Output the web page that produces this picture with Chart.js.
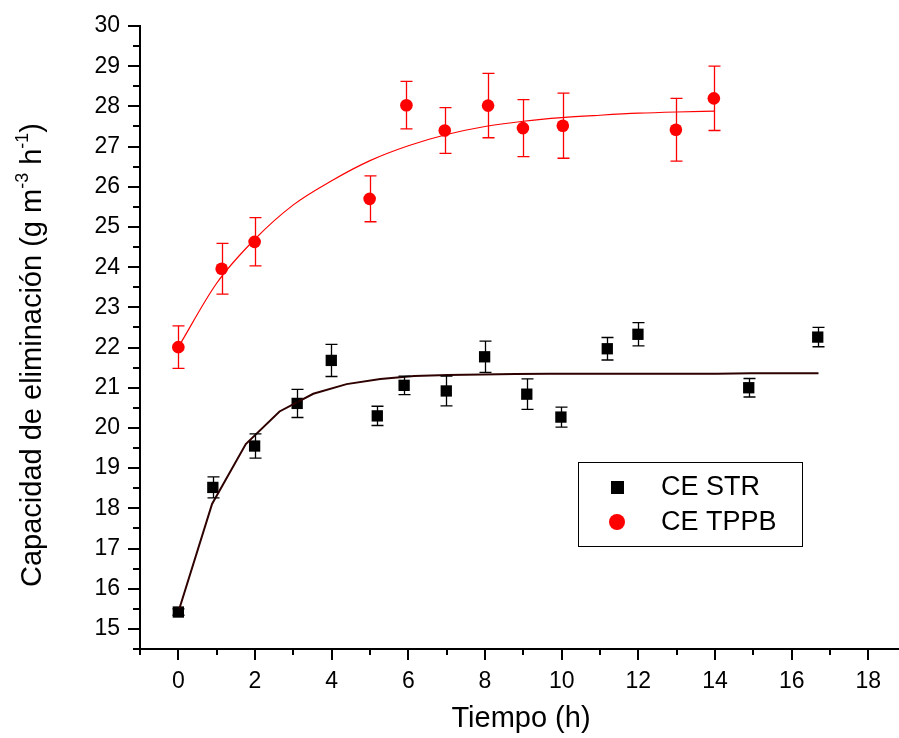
<!DOCTYPE html>
<html>
<head>
<meta charset="utf-8">
<script src="https://cdn.jsdelivr.net/npm/chart.js@4.4.0/dist/chart.umd.min.js"></script>
<style>
  html, body { margin: 0; padding: 0; background: #fff; }
  canvas { display: block; }
</style>
</head>
<body>
<canvas id="ceChart" width="899" height="738"></canvas>
<script>
// datos
const strTime = [0, 0.9, 1.99, 3.1, 3.99, 5.19, 5.89, 6.99, 7.99, 9.09, 9.98, 11.19, 11.99, 14.88, 16.68];
const strCE   = [15.42, 18.52, 19.55, 20.61, 21.68, 20.3, 21.06, 20.92, 21.77, 20.84, 20.27, 21.97, 22.33, 21.0, 22.26];
const strErr  = [0.08, 0.26, 0.3, 0.35, 0.4, 0.24, 0.23, 0.37, 0.39, 0.38, 0.25, 0.28, 0.29, 0.23, 0.24];

const tppbTime = [0, 1.13, 1.99, 4.99, 5.95, 6.95, 8.08, 8.99, 10.03, 12.98, 13.97];
const tppbCE   = [22.01, 23.96, 24.63, 25.7, 28.03, 27.4, 28.02, 27.46, 27.52, 27.42, 28.2];
const tppbErr  = [0.53, 0.63, 0.6, 0.57, 0.59, 0.57, 0.8, 0.71, 0.81, 0.78, 0.8];

// curvas de ajuste
const strFitTime = [0, 0.88, 1.76, 2.64, 3.52, 4.39, 5.27, 6.15, 7.03, 7.91, 8.79, 9.67, 10.55, 11.43, 12.31, 13.18, 14.06, 14.94, 15.82, 16.7];
const strFitCE   = [15.42, 18.11, 19.6, 20.41, 20.85, 21.09, 21.22, 21.29, 21.32, 21.33, 21.34, 21.35, 21.35, 21.35, 21.35, 21.35, 21.35, 21.36, 21.36, 21.36];
const tppbFitTime = [0, 1, 2, 3, 4, 5, 6, 7, 8, 9, 10, 11, 12, 13, 14];
const tppbFitCE   = [22.01, 23.6, 24.7, 25.55, 26.15, 26.65, 27.02, 27.3, 27.5, 27.63, 27.72, 27.78, 27.83, 27.86, 27.88];

const xLabelTicks = [0, 2, 4, 6, 8, 10, 12, 14, 16, 18];
const yLabelTicks = [15, 16, 17, 18, 19, 20, 21, 22, 23, 24, 25, 26, 27, 28, 29, 30];

const legendItems = ['CE STR', 'CE TPPB'];
const xTitle = 'Tiempo (h)';
const yTitleParts = [['Capacidad de eliminación (g m', false], ['-3', true], [' h', false], ['-1', true], [')', false]];

const FONT = '"Liberation Sans", Arial, sans-serif';

const pts = (xs, ys) => xs.map((x, i) => ({ x: x, y: ys[i] }));

// barras de error
const errorBars = {
    id: 'errorBars',
    afterDatasetsDraw(chart) {
        const { ctx, scales: { x, y } } = chart;
        [[strTime, strCE, strErr, '#000000'], [tppbTime, tppbCE, tppbErr, '#ff0000']].forEach(([ts, vs, es, col]) => {
            ctx.save();
            ctx.strokeStyle = col;
            ctx.lineWidth = 1.3;
            ts.forEach((t, i) => {
                const px = Math.round(x.getPixelForValue(t)) + 0.5;
                const top = y.getPixelForValue(vs[i] + es[i]);
                const bot = y.getPixelForValue(vs[i] - es[i]);
                ctx.beginPath();
                ctx.moveTo(px, top); ctx.lineTo(px, bot);
                ctx.moveTo(px - 6, top); ctx.lineTo(px + 6, top);
                ctx.moveTo(px - 6, bot); ctx.lineTo(px + 6, bot);
                ctx.stroke();
            });
            ctx.restore();
        });
    }
};

// marcas de los ejes, leyenda y titulos
const decorations = {
    id: 'decorations',
    afterDraw(chart) {
        const { ctx, chartArea: ca, scales: { x, y } } = chart;
        ctx.save();
        ctx.strokeStyle = '#000';
        ctx.lineWidth = 2;
        ctx.beginPath();
        for (let v = -1; v <= 18; v++) {
            const px = Math.round(x.getPixelForValue(v));
            const len = v % 2 === 0 ? 11 : 6;
            ctx.moveTo(px, ca.bottom); ctx.lineTo(px, ca.bottom + len);
        }
        for (let k = 0; k <= 31; k++) {
            const v = 14.5 + k * 0.5;
            const py = Math.round(y.getPixelForValue(v));
            const len = Number.isInteger(v) ? 12 : 7;
            ctx.moveTo(ca.left, py); ctx.lineTo(ca.left - len, py);
        }
        ctx.stroke();

        // leyenda
        ctx.lineWidth = 1;
        ctx.strokeRect(578.5, 462.5, 224, 84);
        ctx.fillStyle = '#000';
        ctx.fillRect(611, 481, 13, 13);
        ctx.fillStyle = '#ff0000';
        ctx.beginPath();
        ctx.arc(617, 522, 8, 0, Math.PI * 2);
        ctx.fill();
        ctx.fillStyle = '#000';
        ctx.font = '27px ' + FONT;
        ctx.textBaseline = 'middle';
        ctx.textAlign = 'left';
        ctx.fillText(legendItems[0], 661, 488);
        ctx.fillText(legendItems[1], 661, 523);

        // titulo eje x
        ctx.font = '29px ' + FONT;
        ctx.textAlign = 'center';
        ctx.fillText(xTitle, 521, 719);

        // titulo eje y con superindices
        ctx.translate(33, 355);
        ctx.rotate(-Math.PI / 2);
        ctx.textAlign = 'left';
        const mainFont = '29px ' + FONT;
        const supFont = '18px ' + FONT;
        let total = 0;
        yTitleParts.forEach(([txt, sup]) => {
            ctx.font = sup ? supFont : mainFont;
            total += ctx.measureText(txt).width;
        });
        let cx = -total / 2;
        yTitleParts.forEach(([txt, sup]) => {
            ctx.font = sup ? supFont : mainFont;
            ctx.fillText(txt, cx, sup ? -10 : 0);
            cx += ctx.measureText(txt).width;
        });
        ctx.restore();
    }
};

new Chart(document.getElementById('ceChart'), {
    type: 'scatter',
    data: {
        datasets: [
            {
                label: 'ajuste STR',
                type: 'line',
                data: pts(strFitTime, strFitCE),
                borderColor: '#2e0000',
                borderWidth: 2,
                pointRadius: 0,
                tension: 0,
                fill: false
            },
            {
                label: 'ajuste TPPB',
                type: 'line',
                data: pts(tppbFitTime, tppbFitCE),
                borderColor: '#ff0000',
                borderWidth: 1.2,
                pointRadius: 0,
                cubicInterpolationMode: 'monotone',
                fill: false
            },
            {
                label: legendItems[0],
                data: pts(strTime, strCE),
                pointStyle: 'rect',
                pointRadius: 8,
                backgroundColor: '#000000',
                borderColor: '#000000',
                borderWidth: 0
            },
            {
                label: legendItems[1],
                data: pts(tppbTime, tppbCE),
                pointStyle: 'circle',
                pointRadius: 6.3,
                backgroundColor: '#ff0000',
                borderColor: '#ff0000',
                borderWidth: 0
            }
        ]
    },
    options: {
        responsive: false,
        animation: false,
        devicePixelRatio: 1,
        layout: { autoPadding: false, padding: { top: 26, right: 0, left: 0, bottom: 0 } },
        plugins: { legend: { display: false }, tooltip: { enabled: false } },
        scales: {
            x: {
                type: 'linear',
                min: -1,
                max: 18.8,
                afterBuildTicks: s => { s.ticks = xLabelTicks.map(v => ({ value: v })); },
                afterFit: s => { s.height = 89; },
                grid: { display: false, tickLength: 11 },
                border: { display: true, color: '#000', width: 2 },
                ticks: { color: '#000', font: { family: FONT, size: 23 }, padding: 8, autoSkip: false, maxRotation: 0 }
            },
            y: {
                min: 14.5,
                max: 30,
                afterBuildTicks: s => { s.ticks = yLabelTicks.map(v => ({ value: v })); },
                afterFit: s => { s.width = 140; },
                grid: { display: false, tickLength: 12 },
                border: { display: true, color: '#000', width: 2 },
                ticks: { color: '#000', font: { family: FONT, size: 23 }, padding: 8, autoSkip: false }
            }
        }
    },
    plugins: [errorBars, decorations]
});
</script>
</body>
</html>
